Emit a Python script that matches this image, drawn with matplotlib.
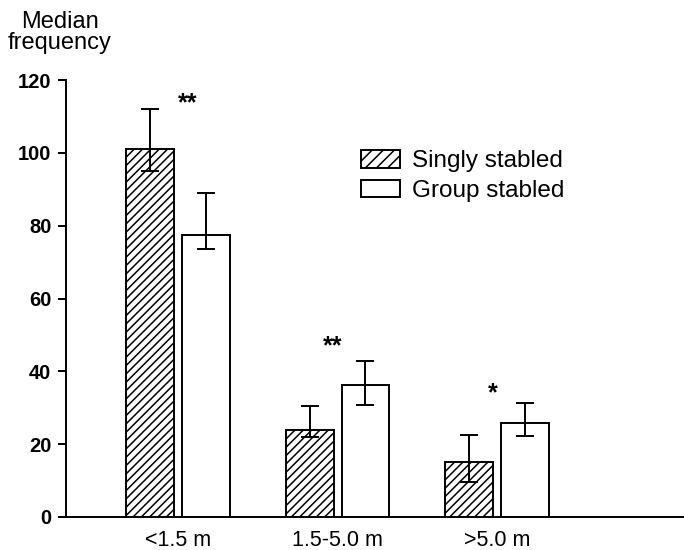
import matplotlib.pyplot as plt
import numpy as np
from matplotlib.patches import Patch

plt.rcParams['font.family'] = ['Liberation Sans', 'DejaVu Sans']
plt.rcParams['hatch.linewidth'] = 1.1

# Data
categories = ['<1.5 m', '1.5-5.0 m', '>5.0 m']
singly = [101, 24, 15]
singly_lo = [95, 22, 9.6]
singly_hi = [112, 30.5, 22.5]
group = [77.5, 36.3, 25.8]
group_lo = [73.5, 30.8, 22.3]
group_hi = [89, 42.9, 31.3]
stars = ['**', '**', '*']
star_y = [113.5, 47, 34]
star_dx = [0.06, -0.03, -0.025]
yticks = [0, 20, 40, 60, 80, 100, 120]

x = np.arange(len(categories))
w = 0.30
off = 0.175

fig = plt.figure(figsize=(6.84, 5.5), dpi=100)
ax = fig.add_axes([60 / 684, 0.06, 1 - 60 / 684, 0.7945])

s_err = [np.array(singly) - np.array(singly_lo), np.array(singly_hi) - np.array(singly)]
g_err = [np.array(group) - np.array(group_lo), np.array(group_hi) - np.array(group)]

ax.bar(x - off, singly, w, color='white', edgecolor='black', hatch='////',
       linewidth=1.4, zorder=2)
ax.bar(x + off, group, w, color='white', edgecolor='black', linewidth=1.4, zorder=2)
ax.errorbar(x - off, singly, yerr=s_err, fmt='none', ecolor='black',
            elinewidth=1.4, capsize=6.5, capthick=1.4, zorder=3)
ax.errorbar(x + off, group, yerr=g_err, fmt='none', ecolor='black',
            elinewidth=1.4, capsize=6.5, capthick=1.4, zorder=3)

for xi, dx, s, yv in zip(x, star_dx, stars, star_y):
    ax.text(xi + dx, yv, s, ha='center', va='center', fontsize=18,
            fontweight='bold')

ax.spines['top'].set_visible(False)
ax.spines['right'].set_visible(False)
ax.spines['left'].set_linewidth(1.4)
ax.spines['bottom'].set_linewidth(1.4)
ax.spines['left'].set_position(('data', -0.702))
ax.spines['left'].set_bounds(0, 120)

ax.set_xlim(-0.740, 3.172)
ax.set_ylim(0, 120)
ax.set_yticks(yticks)
ax.set_yticklabels([str(t) for t in yticks], fontsize=14.5, fontweight='bold')
ax.set_xticks(x)
ax.set_xticklabels(categories, fontsize=15.5)
ax.tick_params(axis='x', length=0, pad=9)
ax.tick_params(axis='y', direction='out', length=5.5, width=1.4, pad=5)

fig.text(0.087, 0.902, 'Median\nfrequency', ha='center', va='bottom', fontsize=17,
         linespacing=0.95, multialignment='center')

handles = [Patch(facecolor='white', edgecolor='black', hatch='///', linewidth=1.4),
           Patch(facecolor='white', edgecolor='black', linewidth=1.4)]
ax.legend(handles, ['Singly stabled', 'Group stabled'], loc='upper left',
          bbox_to_anchor=(0.4825, 0.84), frameon=False, fontsize=17.5,
          handlelength=1.6, handleheight=0.75, handletextpad=0.5, labelspacing=0.3,
          borderaxespad=0, borderpad=0)

fig.savefig('out.png', dpi=100)
